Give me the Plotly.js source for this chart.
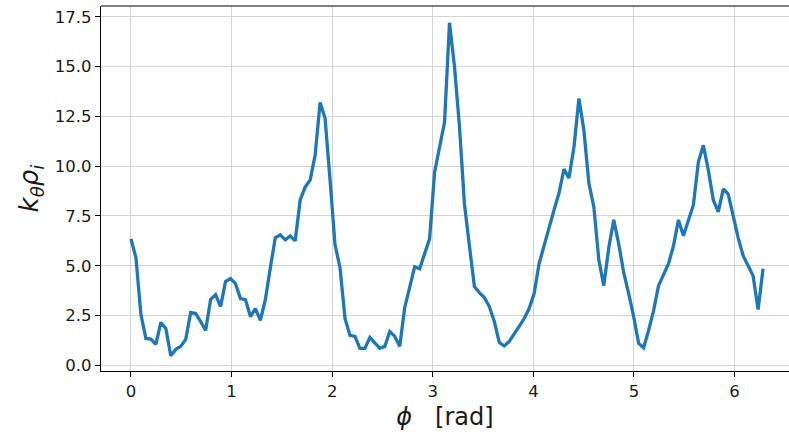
<!DOCTYPE html>
<html>
<head>
<meta charset="utf-8">
<script src="https://cdn.plot.ly/plotly-3.0.1.min.js"></script>
<style>html,body{margin:0;padding:0;background:#fff;}#chart{width:789px;height:435px;}</style>
</head>
<body>
<div id="chart"></div>
<script>
// k_theta * rho_i values sampled uniformly over phi in [0, 2*pi]
const kThetaRho = [
  6.35, 5.4, 2.55, 1.35, 1.32, 1.05, 2.15, 1.85, 0.48, 0.8,
  0.95, 1.3, 2.65, 2.6, 2.2, 1.75, 3.3, 3.55, 2.95, 4.2,
  4.35, 4.1, 3.35, 3.3, 2.45, 2.85, 2.25, 3.3, 4.9, 6.4,
  6.55, 6.3, 6.5, 6.25, 8.3, 8.95, 9.3, 10.55, 13.2, 12.4,
  9.3, 6.05, 4.9, 2.35, 1.5, 1.45, 0.85, 0.85, 1.4, 1.1,
  0.85, 0.95, 1.7, 1.45, 0.95, 2.9, 3.95, 4.95, 4.85, 5.6,
  6.35, 9.7, 10.9, 12.2, 17.2, 15.0, 12.0, 8.1, 6.0, 3.95,
  3.65, 3.4, 2.95, 2.2, 1.15, 0.97, 1.2, 1.55, 1.95, 2.35,
  2.85, 3.6, 5.1, 6.0, 6.95, 7.8, 8.65, 9.85, 9.4, 10.95,
  13.4, 11.8, 9.15, 7.95, 5.3, 4.0, 5.9, 7.3, 6.1, 4.65,
  3.6, 2.45, 1.1, 0.88, 1.75, 2.75, 4.0, 4.55, 5.1, 6.0,
  7.3, 6.5, 7.3, 8.05, 10.2, 11.05, 9.8, 8.3, 7.7, 8.85,
  8.6, 7.45, 6.4, 5.5, 5.0, 4.5, 2.8, 4.85
];
const phiStart = 0;
const phiEnd = 2 * Math.PI;
const phi = kThetaRho.map((_, i) => phiStart + i * (phiEnd - phiStart) / (kThetaRho.length - 1));
const xTicks = [0, 1, 2, 3, 4, 5, 6];
const yTicks = [0, 2.5, 5, 7.5, 10, 12.5, 15, 17.5];
const yTickText = ['0.0', '2.5', '5.0', '7.5', '10.0', '12.5', '15.0', '17.5'];

const trace = {
  x: phi, y: kThetaRho, type: 'scatter', mode: 'lines',
  line: {color: '#1f77b4', width: 3.3}, hoverinfo: 'skip'
};
const font = {family: 'DejaVu Sans, sans-serif', size: 16.5, color: '#1a1a1a'};
const layout = {
  width: 789, height: 435,
  margin: {l: 101, r: 0, t: 6, b: 64},
  paper_bgcolor: '#fff', plot_bgcolor: '#fff',
  showlegend: false,
  font: font,
  xaxis: {
    range: [-0.298, 6.541], tickvals: xTicks, ticktext: xTicks.map(String),
    showgrid: true, gridcolor: '#d4d4d4', gridwidth: 1, zeroline: false,
    showline: true, linecolor: '#000', linewidth: 1.2,
    ticks: 'outside', ticklen: 5, tickcolor: '#000', tickwidth: 1,
    tickfont: font,
    title: {text: '<i>ϕ</i>   [rad]', font: {family: 'DejaVu Sans, sans-serif', size: 24, color: '#1a1a1a'}, standoff: 8}
  },
  yaxis: {
    range: [-0.286, 18.04], tickvals: yTicks, ticktext: yTickText,
    showgrid: true, gridcolor: '#d4d4d4', gridwidth: 1, zeroline: false,
    showline: true, linecolor: '#000', linewidth: 1.2,
    ticks: 'outside', ticklen: 5, tickcolor: '#000', tickwidth: 1,
    tickfont: font,
    title: {text: '<i>k</i><sub><i>θ</i></sub><i>ρ</i><sub><i>i</i></sub>', font: {family: 'DejaVu Sans, sans-serif', size: 26, color: '#1a1a1a'}, standoff: 8}
  },
  shapes: [{type: 'line', xref: 'paper', yref: 'paper', x0: 0, x1: 1, y0: 1, y1: 1, line: {color: '#000', width: 1.2}}]
};
Plotly.newPlot('chart', [trace], layout, {staticPlot: true, displayModeBar: false});
</script>
</body>
</html>
